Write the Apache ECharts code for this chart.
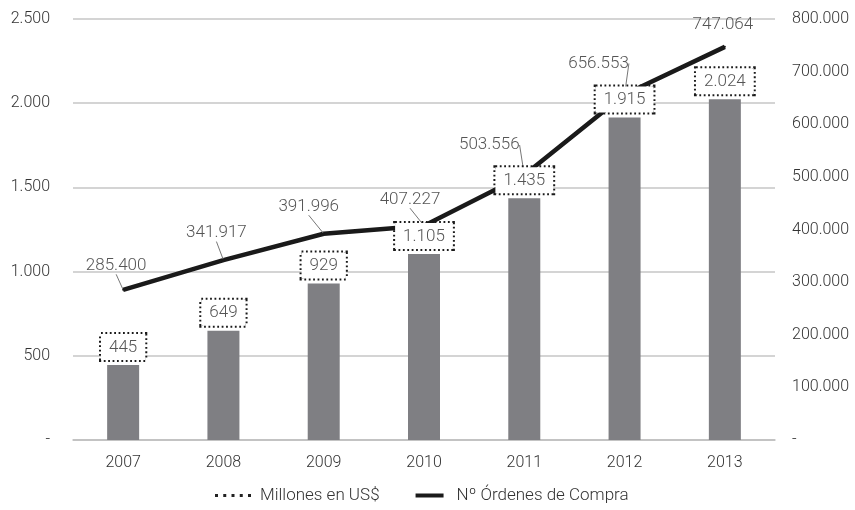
<!DOCTYPE html>
<html><head><meta charset="utf-8">
<script src="https://cdn.jsdelivr.net/npm/echarts@6/dist/echarts.min.js"></script>
<style>html,body{margin:0;padding:0;background:#fff}#c{width:855px;height:510px}</style>
</head><body><div id="c"></div>
<script>
const years = ['2007','2008','2009','2010','2011','2012','2013'];
const millonesUSD = [445, 649, 929, 1105, 1435, 1915, 2024];
const ordenesCompra = [285400, 341917, 391996, 407227, 503556, 656553, 747064];
const seriesNames = ['Millones en US$', 'Nº Órdenes de Compra'];

// label placement offsets for line labels (layout only)
const lineLabelOffsets = [[-7,-24],[-7,-27],[-15,-27],[-14,-26],[-35,-30],[-26,-31],[-2,-22]];
const showLeader = [true, true, true, true, true, true, false];

function fmt(v){ if (v === 0) return '-'; return String(v).replace(/\B(?=(\d{3})+(?!\d))/g,'.'); }

const FONT = 'Roboto';
const chart = echarts.init(document.getElementById('c'), null, {renderer:'canvas'});
chart.setOption({
  animation:false,
  backgroundColor:'#fff',
  textStyle:{fontFamily:FONT},
  grid:{left:73, right:80, top:19, bottom:70},
  legend:{
    bottom:1, left:210, itemGap:36, itemWidth:36, itemHeight:4,
    textStyle:{fontFamily:FONT, fontSize:17, fontWeight:300, color:'#333', padding:[0,0,0,4]},
    data:[
      {name:seriesNames[0], icon:'path://M0,0h4v4h-4z M11,0h4v4h-4z M22,0h4v4h-4z M33,0h4v4h-4z M44,0h4v4h-4z', itemStyle:{color:'#222'}},
      {name:seriesNames[1], icon:'path://M0,0h28v4h-28z', itemStyle:{color:'#1a1a1a'}}
    ]
  },
  xAxis:{
    type:'category', data:years,
    axisTick:{show:false},
    axisLine:{lineStyle:{color:'#bdbdbd', width:1.5}},
    axisLabel:{fontFamily:FONT, fontSize:16, fontWeight:300, color:'#333', margin:15}
  },
  yAxis:[
    {type:'value', min:0, max:2500, interval:500,
     axisLine:{show:false}, axisTick:{show:false},
     splitLine:{lineStyle:{color:'#c6c6c6', width:1.5}},
     axisLabel:{fontFamily:FONT, fontSize:16, fontWeight:300, color:'#333', margin:23, formatter:fmt}},
    {type:'value', min:0, max:800000, interval:100000, position:'right',
     axisLine:{show:false}, axisTick:{show:false}, splitLine:{show:false},
     axisLabel:{fontFamily:FONT, fontSize:16, fontWeight:300, color:'#333', margin:17, formatter:fmt}}
  ],
  series:[
    {name:seriesNames[0], type:'bar', yAxisIndex:0, data:millonesUSD, barWidth:32, z:3,
     itemStyle:{color:'#7f7f83'},
     label:{show:true, position:'top', distance:5, formatter:p=>fmt(p.value),
       fontFamily:FONT, fontSize:17, fontWeight:300, color:'#555', backgroundColor:'#fff',
       borderColor:'#1a1a1a', borderWidth:2, borderType:[1.8,2.6], padding:[5,8,4,8]}},
    {name:seriesNames[1], type:'line', yAxisIndex:1, z:2,
     data:ordenesCompra.map((v,i)=>({value:v, labelLine:{show:showLeader[i]}})),
     symbol:'circle', symbolSize:2, lineStyle:{color:'#1a1a1a', width:4.5},
     itemStyle:{color:'#1a1a1a'},
     label:{show:true, position:'inside', formatter:p=>fmt(p.value), fontFamily:FONT, fontSize:17, fontWeight:300, color:'#555'},
     labelLine:{show:true, lineStyle:{color:'#777', width:1}},
     labelLayout:function(p){ const o = lineLabelOffsets[p.dataIndex]; return {dx:o[0], dy:o[1]}; }
    }
  ]
});
</script></body></html>
